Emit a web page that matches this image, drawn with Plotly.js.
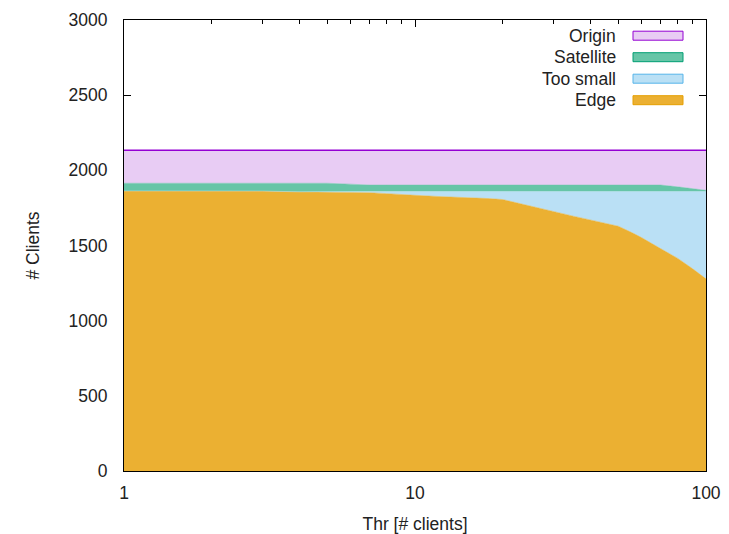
<!DOCTYPE html>
<html>
<head>
<meta charset="utf-8">
<script src="https://cdn.plot.ly/plotly-3.0.1.min.js"></script>
<style>html,body{margin:0;padding:0;background:#fff;}#chart{width:729px;height:534px;}</style>
</head>
<body>
<div id="chart"></div>
<script>
// Threshold values (# clients)
const thr = [1, 2, 3, 4, 5, 6, 7, 8, 9, 10, 12, 14, 16, 18, 20, 25, 30, 35, 40, 50, 56, 60, 70, 80, 90, 100];
// Series values (# clients)
const edge     = [1863, 1863, 1862, 1857, 1856, 1854, 1851, 1845, 1841, 1834, 1826, 1822, 1815, 1812, 1806, 1760, 1722, 1695, 1670, 1628, 1583, 1553, 1478, 1414, 1345, 1278];
const tooSmall = [0, 0, 0, 0, 0, 5, 8, 14, 18, 25, 33, 37, 44, 47, 53, 99, 137, 164, 189, 231, 276, 306, 381, 445, 514, 581];
const satellite= [51, 51, 52, 57, 58, 49, 43, 43, 43, 43, 43, 43, 43, 43, 43, 43, 43, 43, 43, 43, 43, 43, 43, 31, 19, 8];
const origin   = [219, 219, 219, 219, 219, 225, 231, 231, 231, 231, 231, 231, 231, 231, 231, 231, 231, 231, 231, 231, 231, 231, 231, 243, 255, 266];

const names = ['Edge', 'Too small', 'Satellite', 'Origin'];
const fills = ['rgb(235,176,50)', 'rgb(186,224,245)', 'rgb(102,197,167)', 'rgb(232,204,244)'];
const lines = ['#e69f00', '#56b4e9', '#009e73', '#9400d3'];
const series = [edge, tooSmall, satellite, origin];

const traces = series.map((v, i) => ({
  x: thr, y: v, name: names[i], type: 'scatter', mode: 'lines',
  stackgroup: 'one', fillcolor: fills[i],
  line: {color: i === 3 ? lines[i] : fills[i], width: i === 3 ? 1.5 : 0.5, shape: 'linear'},
  hoverinfo: 'skip', showlegend: false
}));

const font = {family: 'Liberation Sans, Arial, sans-serif', size: 17.5, color: '#222'};

// Legend (symbol on the right, gnuplot style)
const legOrder = [3, 2, 1, 0];
const annotations = [];
const shapes = [];
legOrder.forEach((k, j) => {
  const yc = 35.7 + j * 21.5;
  annotations.push({
    xref: 'paper', yref: 'paper', x: (618 - 124) / 582, y: (471 - yc) / 451,
    xanchor: 'right', yanchor: 'middle', text: names[k], showarrow: false,
    font: font
  });
  shapes.push({
    type: 'rect', xref: 'paper', yref: 'paper',
    x0: (633 - 124) / 582, x1: (683 - 124) / 582,
    y0: (471 - yc - 4.5) / 451, y1: (471 - yc + 4.5) / 451,
    fillcolor: fills[k], line: {color: lines[k], width: 1}
  });
});

const layout = {
  width: 729, height: 534,
  margin: {l: 124, r: 23, t: 20, b: 63},
  paper_bgcolor: '#fff', plot_bgcolor: '#fff',
  font: font,
  showlegend: false,
  xaxis: {
    type: 'log', range: [0, 2], showgrid: false, zeroline: false,
    showline: true, mirror: 'ticks', linecolor: '#000', linewidth: 1,
    ticks: 'inside', ticklen: 7, tickcolor: '#000',
    tickvals: [1, 10, 100], ticktext: ['1', '10', '100'],
    minor: {ticks: 'inside', ticklen: 4, tickcolor: '#000', tickvals: [2,3,4,5,6,7,8,9,20,30,40,50,60,70,80,90], showgrid: false},
    tickfont: font, layer: 'below traces', ticklabelstandoff: 6,
    title: {text: 'Thr [# clients]', font: font, standoff: 18}
  },
  yaxis: {
    range: [0, 3000], showgrid: false, zeroline: false,
    showline: true, mirror: 'ticks', linecolor: '#000', linewidth: 1,
    ticks: 'inside', ticklen: 7, tickcolor: '#000',
    tickvals: [0, 500, 1000, 1500, 2000, 2500, 3000],
    tickfont: font, layer: 'below traces', ticklabelstandoff: 12,
    title: {text: '# Clients', font: font, standoff: 24}
  },
  annotations: annotations,
  shapes: shapes
};

Plotly.newPlot('chart', traces, layout, {staticPlot: true, displayModeBar: false});
</script>
</body>
</html>
